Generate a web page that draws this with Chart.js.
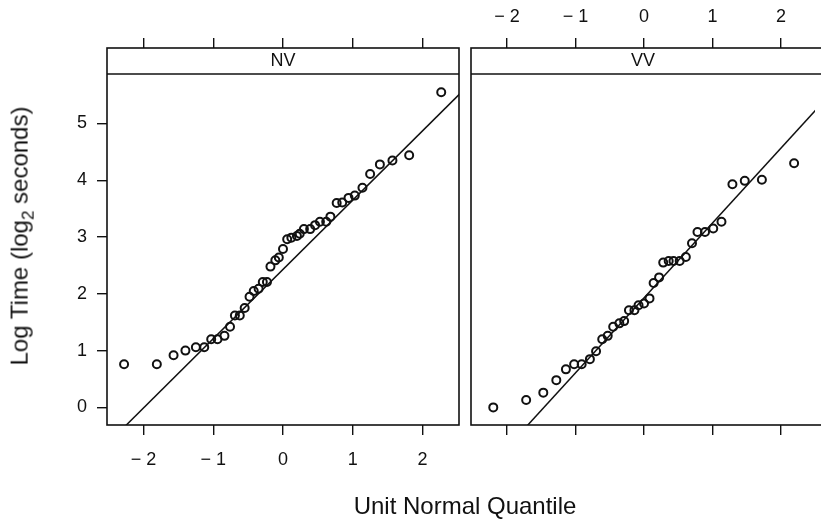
<!DOCTYPE html>
<html>
<head>
<meta charset="utf-8">
<title>Log Time Q-Q plots</title>
<script src="https://cdn.jsdelivr.net/npm/chart.js@4"></script>
<style>
  body { margin: 0; width: 821px; height: 520px; overflow: hidden; position: relative; background: #fff;
         font-family: "Liberation Sans", Arial, sans-serif; color: #111; }
  canvas { position: absolute; top: 0; }
  .ytitle { position: absolute; left: 22px; top: 236px; transform: translate(-50%, -50%) rotate(-90deg);
            white-space: nowrap; font-size: 24px; }
  .ytitle sub { font-size: 17px; }
  .xtitle { position: absolute; left: 465px; top: 506px; transform: translate(-50%, -50%);
            white-space: nowrap; font-size: 24px; }
</style>
</head>
<body>
<canvas id="nvChart" width="465" height="520" style="left:0"></canvas>
<canvas id="vvChart" width="356" height="520" style="left:465px"></canvas>
<div class="ytitle">Log Time (log<sub>2</sub> seconds)</div>
<div class="xtitle">Unit Normal Quantile</div>

<script>
// panel names and tick values
const panels = ['NV', 'VV'];
const xTicks = [-2, -1, 0, 1, 2];
const yTicks = [0, 1, 2, 3, 4, 5];

// NV: unit normal quantile vs log2 time
const nvQuantile = [-2.28, -1.81, -1.57, -1.40, -1.25, -1.13, -1.03, -0.94, -0.84, -0.76, -0.69,
    -0.62, -0.55, -0.48, -0.42, -0.35, -0.29, -0.23, -0.18, -0.11, -0.06, 0.00, 0.06, 0.12,
    0.20, 0.24, 0.30, 0.39, 0.46, 0.53, 0.62, 0.68, 0.77, 0.85, 0.94, 1.03, 1.14, 1.25,
    1.39, 1.57, 1.81, 2.27];
const nvLogTime = [0.76, 0.76, 0.92, 1.00, 1.06, 1.06, 1.20, 1.20, 1.26, 1.42, 1.62,
    1.62, 1.75, 1.95, 2.05, 2.09, 2.21, 2.21, 2.48, 2.59, 2.64, 2.79, 2.96, 2.99,
    3.02, 3.06, 3.14, 3.14, 3.21, 3.27, 3.27, 3.36, 3.60, 3.61, 3.69, 3.73, 3.87, 4.11,
    4.28, 4.35, 4.44, 5.55];

// VV
const vvQuantile = [-2.20, -1.72, -1.47, -1.28, -1.14, -1.02, -0.91, -0.79, -0.70, -0.61, -0.53,
    -0.45, -0.36, -0.29, -0.22, -0.14, -0.08, 0.00, 0.08, 0.14, 0.22, 0.28, 0.36, 0.43,
    0.52, 0.61, 0.70, 0.78, 0.89, 1.01, 1.13, 1.29, 1.47, 1.72, 2.19];
const vvLogTime = [0.00, 0.13, 0.26, 0.48, 0.67, 0.76, 0.76, 0.85, 0.99, 1.20, 1.26,
    1.42, 1.48, 1.52, 1.71, 1.71, 1.80, 1.83, 1.92, 2.19, 2.29, 2.55, 2.58, 2.58,
    2.58, 2.65, 2.89, 3.09, 3.09, 3.15, 3.27, 3.93, 3.99, 4.01, 4.30];

// reference lines (end points, clipped by the panel)
const nvLineQuantile = [-2.6, 2.6];
const nvLineLogTime = [-0.74, 5.60];
const vvLineQuantile = [-1.9, 2.6];
const vvLineLogTime = [-0.58, 5.36];

const FONT = '"Liberation Sans", Arial, sans-serif';
const INK = '#111';

function toPoints(xs, ys) {
    return xs.map((x, i) => ({ x: x, y: ys[i] }));
}

function tickLabel(v) {
    return v < 0 ? '\u2212 ' + Math.abs(v) : String(v);
}

// frame round the panel plus the strip with the panel name
const stripPlugin = {
    id: 'strip',
    afterDraw(chart, args, opts) {
        const ctx = chart.ctx;
        const a = chart.chartArea;
        const stripBottom = a.top + 26;
        ctx.save();
        ctx.strokeStyle = INK;
        ctx.lineWidth = 1.6;
        ctx.strokeRect(a.left, a.top, a.right - a.left + opts.extendRight, a.bottom - a.top);
        ctx.beginPath();
        ctx.moveTo(a.left, stripBottom);
        ctx.lineTo(a.right + opts.extendRight, stripBottom);
        ctx.stroke();
        ctx.fillStyle = INK;
        ctx.font = '18px ' + FONT;
        ctx.textAlign = 'center';
        ctx.textBaseline = 'middle';
        ctx.fillText(opts.label, (a.left + a.right) / 2, a.top + 13);
        ctx.restore();
    }
};

function xAxis(position, showLabels, xMax) {
    return {
        type: 'linear',
        position: position,
        min: -2.525,
        max: xMax,
        afterBuildTicks: scale => { scale.ticks = xTicks.map(v => ({ value: v })); },
        afterFit: scale => { scale.height = position === 'top' ? 48 : 95; },
        grid: { drawOnChartArea: false, drawTicks: true, tickLength: 10, color: INK, lineWidth: 1.4 },
        border: { display: false },
        ticks: {
            display: showLabels,
            padding: position === 'top' ? 10 : 14,
            color: INK,
            font: { family: FONT, size: 18 },
            maxRotation: 0,
            callback: tickLabel
        }
    };
}

function yAxis(showAxis, width) {
    return {
        type: 'linear',
        position: 'left',
        display: showAxis,
        min: -0.31,
        max: 6.33,
        afterBuildTicks: scale => { scale.ticks = yTicks.map(v => ({ value: v })); },
        afterFit: scale => { scale.width = width; },
        grid: { drawOnChartArea: false, drawTicks: true, tickLength: 10, color: INK, lineWidth: 1.4 },
        border: { display: false },
        ticks: { padding: 10, color: INK, font: { family: FONT, size: 18 } }
    };
}

function makeChart(id, name, qs, ts, lqs, lts, opts) {
    const ctx = document.getElementById(id).getContext('2d');
    return new Chart(ctx, {
        type: 'scatter',
        data: {
            datasets: [{
                label: name,
                data: toPoints(qs, ts),
                xAxisID: 'x',
                pointStyle: 'circle',
                pointRadius: 4,
                pointBorderWidth: 2,
                pointBorderColor: INK,
                pointBackgroundColor: 'rgba(0,0,0,0)'
            }, {
                type: 'line',
                label: name + ' reference',
                data: toPoints(lqs, lts),
                xAxisID: 'x',
                borderColor: INK,
                borderWidth: 1.5,
                pointRadius: 0,
                fill: false
            }]
        },
        options: {
            responsive: false,
            animation: false,
            events: [],
            layout: { padding: { left: opts.padLeft, right: 0, top: 0, bottom: 0 } },
            scales: {
                x: xAxis('bottom', opts.bottomLabels, opts.xMax),
                x2: xAxis('top', !opts.bottomLabels, opts.xMax),
                y: yAxis(opts.showY, opts.yWidth)
            },
            plugins: {
                legend: { display: false },
                tooltip: { enabled: false },
                strip: { label: name, extendRight: opts.extendRight }
            }
        },
        plugins: [stripPlugin]
    });
}

makeChart('nvChart', panels[0], nvQuantile, nvLogTime, nvLineQuantile, nvLineLogTime,
    { padLeft: 0, yWidth: 107, bottomLabels: true, showY: true, xMax: 2.525, extendRight: 0 });
makeChart('vvChart', panels[1], vvQuantile, vvLogTime, vvLineQuantile, vvLineLogTime,
    { padLeft: 6, yWidth: 0, bottomLabels: false, showY: false, xMax: 2.495, extendRight: 10 });
</script>
</body>
</html>
